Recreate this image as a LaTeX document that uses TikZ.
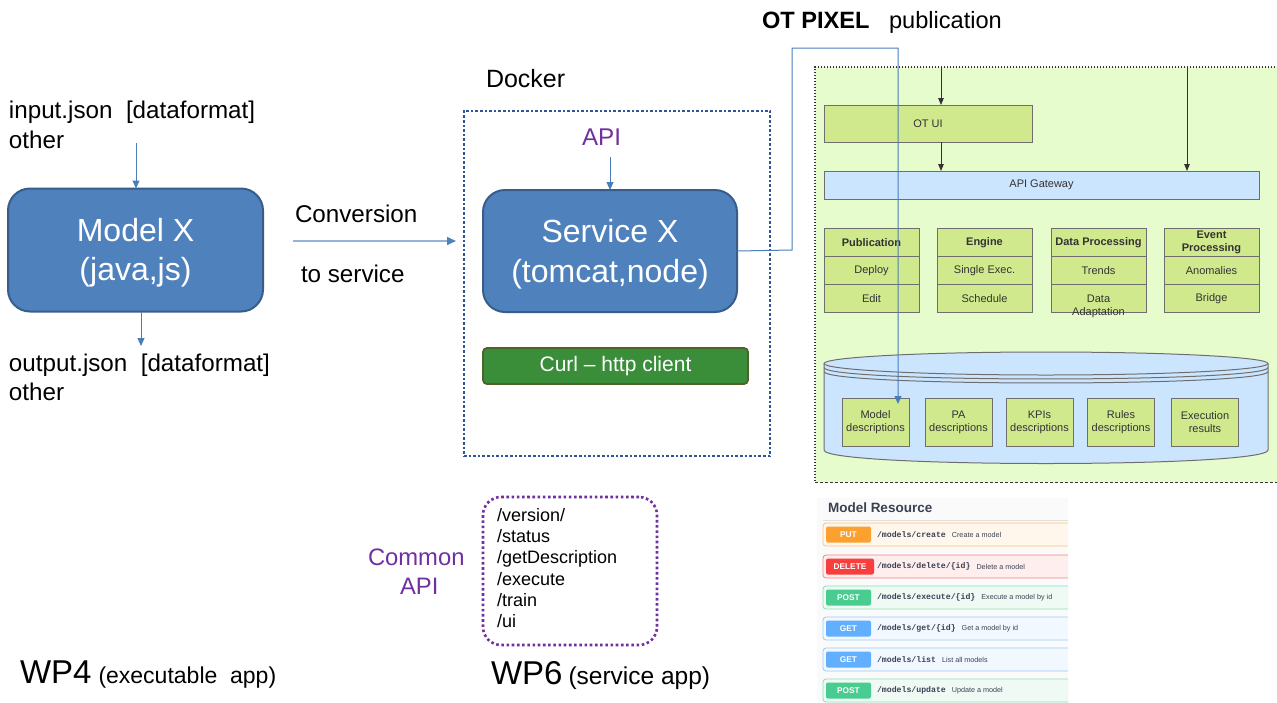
\documentclass[tikz,border=0pt]{standalone}
\usepackage{fontspec}
\setmainfont{Liberation Sans}
\setmonofont{Liberation Mono}
\usetikzlibrary{arrows.meta}
\definecolor{boxblue}{HTML}{4F81BD}
\definecolor{boxblueline}{HTML}{385D8A}
\definecolor{linkblue}{HTML}{4A7EBB}
\definecolor{convblue}{HTML}{95B3D7}
\definecolor{dockerblue}{HTML}{2F5597}
\definecolor{apipurple}{HTML}{7030A0}
\definecolor{curlgreen}{HTML}{3A8E3A}
\definecolor{curlborder}{HTML}{4F6228}
\definecolor{panelgreen}{HTML}{E6FCCC}
\definecolor{modgreen}{HTML}{D0E98D}
\definecolor{gwblue}{HTML}{CCE5FF}
\definecolor{grpborder}{HTML}{6E6E6E}
\definecolor{paneltext}{HTML}{333333}
\definecolor{swtext}{HTML}{3B4151}
\definecolor{swput}{HTML}{FCA130}
\definecolor{swdel}{HTML}{F93E3E}
\definecolor{swpost}{HTML}{49CC90}
\definecolor{swget}{HTML}{61AFFE}
\newcommand\fsz[2]{\fontsize{#1}{#2}\selectfont}
\newcommand\swrow[7]{%
  \fill[fill=#3!9, draw=#3!65, line width=0.8pt, rounded corners=3pt] (823,#2) rectangle (1090,#2+23);
  \node[fill=#3, rounded corners=2pt, minimum width=#5pt, minimum height=16pt, text=white, font=\bfseries\fsz{8.3}{9}] (#1b) at (826+#5/2,#2+11.5) {#4};
  \node[anchor=west, font=\ttfamily\bfseries\fsz{8.2}{9}, text=swtext] (#1p) at (877,#2+11.5) {#6};
  \node[anchor=west, font=\fsz{7.2}{8}, text=swtext] (#1d) at ([xshift=6pt]#1p.east) {#7};
}
\begin{document}
\begin{tikzpicture}[x=1pt,y=-1pt,
  every node/.style={inner sep=0pt, outer sep=0pt},
  bigbox/.style={draw=boxblueline, line width=2pt, fill=boxblue, rounded corners=22pt, text=white, align=center, font=\fsz{32}{39.5}},
  lbl/.style={anchor=base west, font=\fsz{24.2}{28}},
  blarrow/.style={draw=linkblue, line width=1pt, -{Triangle[length=8pt,width=7pt]}},
  darrow/.style={draw=paneltext, line width=1pt, -{Triangle[length=7pt,width=5.5pt]}},
  grp/.style={draw=grpborder, fill=modgreen, line width=1pt, minimum width=95pt, minimum height=28.33pt, font=\fsz{11}{13}, text=paneltext, align=center},
  dbox/.style={draw=grpborder, fill=modgreen, line width=1pt, minimum width=67pt, minimum height=48pt, font=\fsz{11}{13}, text=paneltext, align=center},
  bar/.style={draw=grpborder, line width=1pt, font=\fsz{11}{12}, text=paneltext}
]
\clip (0,0) rectangle (1277,702);
\fill[white] (0,0) rectangle (1277,702);

% ---------- left: Model X ----------
\node[bigbox, minimum width=255pt, minimum height=123pt] (model) at (135.5,250) {\rule{0pt}{29pt}Model X\\(java,js)};
\node[lbl] (in1) at (9,118) {input.json\ \ [dataformat]};
\node[lbl] (in2) at (9,148) {other};
\node[lbl] (out1) at (9,371) {output.json\ \ [dataformat]};
\node[lbl] (out2) at (9,400) {other};
\coordinate (inA) at (136,143);
\draw[blarrow] (inA) -- (inA |- model.north);
\coordinate (outB) at (141,346);
\draw[blarrow] (outB |- model.south) -- (outB);

% ---------- conversion ----------
\node[lbl] (conv1) at (295,222) {Conversion};
\node[lbl] (conv2) at (301,282) {to service};
\coordinate (convA) at (293,241);
\coordinate (convB) at (456,241);
\draw[draw=convblue, line width=1.5pt, -{Triangle[length=9pt,width=8pt,color=boxblue]}] (convA) -- (convB);

% ---------- docker ----------
\node[lbl, font=\fsz{25}{28}] (dockerlbl) at (486,87) {Docker};
\node[draw=dockerblue, line width=2.6pt, dash pattern=on 2.6pt off 2pt, minimum width=306pt, minimum height=345pt] (docker) at (617,283.5) {};
\node[lbl, text=apipurple] (api) at (582,145) {API};
\node[bigbox, minimum width=254pt, minimum height=122pt] (service) at (610,251) {\rule{0pt}{30pt}Service X\\(tomcat,node)};
\coordinate (apiA) at (610,157);
\draw[blarrow] (apiA) -- (apiA |- service.north);
\node[draw=curlborder, fill=curlgreen, line width=1.8pt, rounded corners=4pt, minimum width=265pt, minimum height=36pt, text=white, font=\fsz{21}{25}] (curl) at (615.5,366) {Curl -- http client};

% ---------- OT PIXEL ----------
\node[anchor=base west, font=\bfseries\fsz{23.6}{26}] (otp) at (762,28) {OT PIXEL};
\node[anchor=base west, font=\fsz{23.6}{26}] (otpub) at (889,28) {publication};

\fill[panelgreen] (815,67) rectangle (1290,482);
\draw[paneltext, line width=1.3pt, dash pattern=on 1.3pt off 1.7pt] (1290,67) -- (815,67) -- (815,482);
\draw[paneltext, line width=1pt, dash pattern=on 3pt off 2pt] (815,482) -- (1290,482);
\node (panel) at (1052,274.5) {};

\node[bar, fill=modgreen, minimum width=208pt, minimum height=37pt] (otui) at (928,123.5) {OT UI};
\node[bar, fill=gwblue, minimum width=435pt, minimum height=28pt] (gw) at (1041.5,185) {API Gateway};
\coordinate (t1) at (941,67);
\coordinate (t2) at (1187,67);
\draw[darrow] (t1) -- (t1 |- otui.north);
\draw[darrow] (otui.south -| t1) -- (gw.north -| t1);
\draw[darrow] (t2) -- (t2 |- gw.north);

% groups
\node[grp, font=\bfseries\fsz{11}{13}] (pub1) at (871.5,242.2) {Publication};
\node[grp] (pub2) at (871.5,270.5) {Deploy};
\node[grp] (pub3) at (871.5,298.8) {Edit};
\node[grp, font=\bfseries\fsz{11}{13}] (eng1) at (984.5,242.2) {Engine};
\node[grp] (eng2) at (984.5,270.5) {Single Exec.};
\node[grp] (eng3) at (984.5,298.8) {Schedule};
\node[grp, font=\bfseries\fsz{11}{13}] (dp1) at (1098.5,242.2) {Data Processing};
\node[grp] (dp2) at (1098.5,270.5) {Trends};
\node[grp] (dp3) at (1098.5,298.8) {};
\node[font=\fsz{11}{13}, text=paneltext, align=center] (dp3t) at (1098.5,306) {Data\\Adaptation};
\node[grp, font=\bfseries\fsz{11}{13.5}] (ep1) at (1211.5,242.2) {Event\\Processing};
\node[grp] (ep2) at (1211.5,270.5) {Anomalies};
\node[grp] (ep3) at (1211.5,298.8) {Bridge};

% cylinder
\fill[gwblue] (824,363.5) -- (824,450) .. controls (824,468) and (1268,468) .. (1268,450) -- (1268,363.5) -- cycle;
\draw[grpborder, line width=1pt] (824,363.5) -- (824,450) .. controls (824,468) and (1268,468) .. (1268,450) -- (1268,363.5);
\draw[grpborder, line width=1pt, fill=gwblue] (1046,363.5) ellipse [x radius=222, y radius=11.5];
\draw[grpborder, line width=1pt] (824,367.5) .. controls (824,382.8) and (1268,382.8) .. (1268,367.5);
\draw[grpborder, line width=1pt] (824,371.5) .. controls (824,386.8) and (1268,386.8) .. (1268,371.5);
\node (db) at (1046,410) {};

\node[dbox] (md) at (875.5,422.5) {Model\\descriptions};
\node[dbox] (pa) at (958.5,422.5) {PA\\descriptions};
\node[dbox] (kpi) at (1039.5,422.5) {KPIs\\descriptions};
\node[dbox] (rules) at (1121,422.5) {Rules\\descriptions};
\node[dbox] (exec) at (1205,422.5) {Execution\\results};

% publication line
\coordinate (mdin) at (898,404);
\draw[draw=linkblue, line width=1pt, -{Triangle[length=8pt,width=7pt]}] (service.east) -- (792,250) -- (792,48) -- (898,48) -- (mdin);

% ---------- swagger ----------
\begin{scope}
\clip (817,498) rectangle (1068,702);
\fill[black!2] (817,498) rectangle (1068,702);
\node[anchor=base west, font=\bfseries\fsz{13.5}{16}, text=swtext] (swtitle) at (828,512) {Model Resource};
\draw[black!12, line width=0.8pt] (823,520) -- (1068,520);
\swrow{r1}{523}{swput}{PUT}{45}{/models/create}{Create a model}
\swrow{r2}{555}{swdel}{DELETE}{48}{/models/delete/\{id\}}{Delete a model}
\swrow{r3}{586}{swpost}{POST}{45}{/models/execute/\{id\}}{Execute a model by id}
\swrow{r4}{617}{swget}{GET}{45}{/models/get/\{id\}}{Get a model by id}
\swrow{r5}{648}{swget}{GET}{45}{/models/list}{List all models}
\swrow{r6}{679}{swpost}{POST}{45}{/models/update}{Update a model}
\end{scope}

% ---------- common API ----------
\node[draw=apipurple, line width=2.6pt, dash pattern=on 2.6pt off 2.6pt, rounded corners=18pt, minimum width=174pt, minimum height=148pt] (common) at (570,571) {};
\node[lbl, font=\fsz{23.8}{28}, text=apipurple] (cm1) at (368,565) {Common};
\node[lbl, font=\fsz{23.8}{28}, text=apipurple] (cm2) at (400,594) {API};
\node[anchor=west, align=left, font=\fsz{18}{21.3}] (list) at (497,568) {/version/\\/status\\/getDescription\\/execute\\/train\\/ui};

% ---------- WP labels ----------
\node[anchor=base west] (wp4) at (20,683) {\fsz{33}{38}WP4\hspace{7pt}\fsz{23}{26}(executable\ \ app)};
\node[anchor=base west] (wp6) at (491,684) {\fsz{33}{38}WP6\hspace{6pt}\fsz{24.5}{26}(service app)};
\end{tikzpicture}
\end{document}
